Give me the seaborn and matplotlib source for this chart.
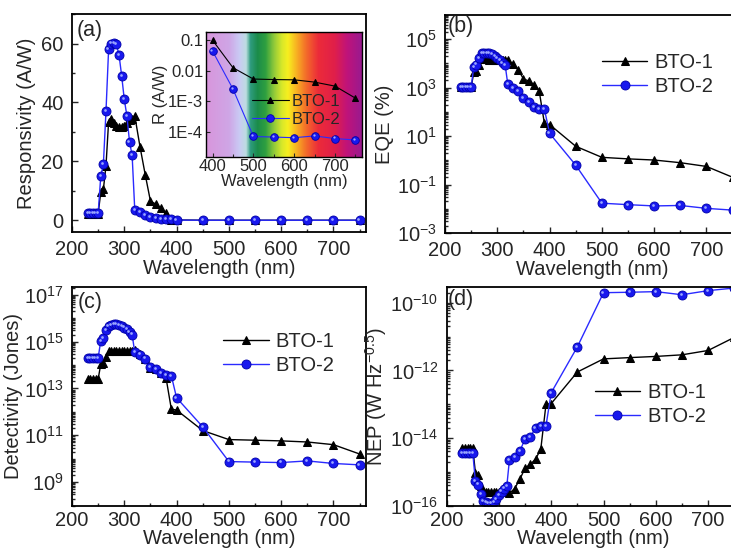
import matplotlib
matplotlib.use('Agg')
import matplotlib.pyplot as plt
import matplotlib.ticker as mticker
from matplotlib import transforms
from matplotlib.colors import LinearSegmentedColormap
import numpy as np
import pandas as pd
import seaborn as sns

# wavelengths (nm), shared by all panels
wavelength = [230, 235, 240, 245, 250, 255, 260, 265, 270, 275, 280, 285, 290, 295,
              300, 305, 310, 315, 320, 330, 340, 350, 360, 370, 380, 390, 400,
              450, 500, 550, 600, 650, 700, 750]

# (a) responsivity (A/W)
resp_bto1 = [2.2, 2.2, 2.2, 2.2, 2.2, 9.5, 10.5, 18.5, 33.5, 34.5, 33.0, 32.0, 31.5, 31.5,
             32.0, 33.0, 34.0, 34.5, 35.5, 25.0, 15.5, 6.5, 5.5, 4.0, 2.3, 0.11, 0.1,
             0.0125, 0.0053, 0.0051, 0.005, 0.0042, 0.0031, 0.00125]
resp_bto2 = [2.3, 2.3, 2.3, 2.3, 2.3, 15.0, 19.0, 37.0, 58.0, 60.0, 60.3, 59.7, 56.0, 49.0,
             41.0, 35.4, 26.6, 22.0, 3.6, 2.7, 1.9, 1.1, 0.75, 0.5, 0.4, 0.4, 0.044,
             0.0025, 6.9e-5, 6.6e-5, 6.3e-5, 7.2e-5, 5.9e-5, 5.3e-5]

# (b) EQE (%)
eqe_bto1 = [1050, 1050, 1050, 1050, 1050, 4300, 5000, 8700, 15600, 15600, 14600, 14000, 13500, 13300,
            13300, 13400, 13600, 13700, 13700, 9500, 5500, 2300, 1900, 1340, 750, 34, 30,
            3.8, 1.33, 1.15, 1.03, 0.8, 0.56, 0.2]
eqe_bto2 = [1100, 1100, 1100, 1100, 1100, 7000, 9000, 17000, 26500, 27000, 26700, 26000, 24000, 20500,
            17000, 14400, 10600, 8600, 1400, 1000, 700, 360, 260, 165, 130, 130, 13,
            0.63, 0.017, 0.0148, 0.0131, 0.0137, 0.0104, 0.0088]

# (c) detectivity (Jones)
det_bto1 = [2.5e13, 2.5e13, 2.5e13, 2.5e13, 2.5e13, 1.1e14, 1.25e14, 2.2e14, 4.0e14, 4.1e14, 4.0e14,
            3.85e14, 3.8e14, 3.8e14, 3.85e14, 3.95e14, 4.0e14, 4.1e14, 4.2e14, 3.0e14, 1.85e14,
            7.8e13, 6.6e13, 4.8e13, 2.7e13, 1.3e12, 1.2e12, 1.6e11, 6.6e10, 6.2e10, 5.8e10,
            5.2e10, 4.0e10, 1.6e10]
det_bto2 = [2.0e14, 2.0e14, 2.0e14, 2.0e14, 2.0e14, 1.1e15, 1.4e15, 3.0e15, 4.5e15, 5.3e15, 5.6e15,
            5.6e15, 5.3e15, 4.7e15, 4.0e15, 3.4e15, 2.6e15, 2.0e15, 3.5e14, 2.8e14, 1.9e14,
            8.5e13, 7.0e13, 4.5e13, 3.6e13, 3.5e13, 4.0e12, 2.3e11, 7.6e9, 7.2e9, 6.9e9,
            8.1e9, 6.3e9, 5.5e9]

# (d) NEP (W Hz^-0.5)
nep_bto1 = [5.0e-15, 5.0e-15, 5.0e-15, 5.0e-15, 5.0e-15, 9.5e-16, 8.0e-16, 3.7e-16, 2.6e-16, 2.6e-16,
            2.6e-16, 2.6e-16, 2.6e-16, 2.6e-16, 2.6e-16, 2.6e-16, 2.6e-16, 2.5e-16, 2.3e-16,
            3.2e-16, 6.0e-16, 1.3e-15, 1.65e-15, 2.4e-15, 4.6e-15, 1.0e-13, 1.05e-13,
            9.0e-13, 2.2e-12, 2.4e-12, 2.6e-12, 2.9e-12, 3.9e-12, 9.5e-12]
nep_bto2 = [3.6e-15, 3.6e-15, 3.6e-15, 3.6e-15, 3.6e-15, 5.3e-16, 4.2e-16, 2.2e-16, 1.35e-16, 1.25e-16,
            1.2e-16, 1.2e-16, 1.3e-16, 1.6e-16, 2.0e-16, 2.6e-16, 3.2e-16, 3.7e-16, 2.2e-15,
            2.8e-15, 4.1e-15, 9.5e-15, 1.1e-14, 1.95e-14, 2.3e-14, 2.3e-14, 2.2e-13,
            5.0e-12, 2.0e-10, 2.06e-10, 2.15e-10, 1.74e-10, 2.3e-10, 2.75e-10]

series_names = ['BTO-1', 'BTO-2']
panel_tags = ['(a)', '(b)', '(c)', '(d)']

eqe_ticks = [1e-3, 1e-1, 1e1, 1e3, 1e5]
det_ticks = [1e9, 1e11, 1e13, 1e15, 1e17]
nep_ticks = [1e-16, 1e-14, 1e-12, 1e-10]
inset_yticks = [0.1, 0.01, 1e-3, 1e-4]
inset_ytick_labels = ['0.1', '0.01', '1E-3', '1E-4']

# visible spectrum behind the inset
spectrum_wl = [384, 440, 465, 482, 492, 510, 530, 550, 570, 585, 605, 630, 660, 700, 730, 766]
spectrum_colors = ['#d896dc', '#cfa6e6', '#cacaf4', '#bcdde0', '#2f9c80', '#1b8c4a', '#2fa040',
                   '#8fc93a', '#d8e82a', '#f7ef1f', '#f8b422', '#f36b2a', '#ec2b3a', '#e01f4a',
                   '#c0137a', '#9a1a8f']

df = pd.DataFrame({'wavelength': wavelength,
                   'resp_bto1': resp_bto1, 'resp_bto2': resp_bto2})

sns.set_style('ticks')
plt.rcParams['font.family'] = ['Liberation Sans', 'DejaVu Sans']
plt.rcParams['font.size'] = 14.5
plt.rcParams['mathtext.fontset'] = 'custom'
plt.rcParams['mathtext.rm'] = 'Liberation Sans'
plt.rcParams['mathtext.it'] = 'Liberation Sans:italic'
plt.rcParams['mathtext.bf'] = 'Liberation Sans:bold'

BLUE = '#2a2aff'
FS = 14.5


def draw_pair(ax, x, y1, y2, ms=6.5, lw=1.0):
    sns.lineplot(x=x, y=y1, ax=ax, color='black', linewidth=lw, marker='^', markersize=ms * 0.9,
                 markeredgecolor='black', label=series_names[0])
    sns.lineplot(x=x, y=y2, ax=ax, color=BLUE, linewidth=lw, marker='o', markersize=ms,
                 markerfacecolor='#1818ee', markeredgecolor='#0000a8', markeredgewidth=0.6,
                 label=series_names[1])
    # small highlight to mimic the shaded spheres
    shine = transforms.offset_copy(ax.transData, fig=ax.figure, x=-0.8, y=0.8, units='points')
    ax.plot(x, y2, linestyle='none', marker='o', markersize=ms * 0.3, color='#9aa6ff',
            markeredgewidth=0, transform=shine, label='_nolegend_')


def style(ax, tag, tag_xy, pad=6, labelpad=0):
    ax.set_xlim(200, 762)
    ax.xaxis.set_major_locator(mticker.MultipleLocator(100))
    ax.xaxis.set_minor_locator(mticker.MultipleLocator(50))
    ax.tick_params(which='both', direction='in', width=1.0, top=False, right=False,
                   labelsize=FS, pad=6)
    ax.tick_params(axis='x', which='both', pad=pad)
    ax.tick_params(which='major', length=4.5)
    ax.tick_params(which='minor', length=2.5)
    for s in ax.spines.values():
        s.set_linewidth(1.3)
        s.set_color('black')
    ax.set_xlabel('Wavelength (nm)', fontsize=FS, labelpad=labelpad)
    ax.text(tag_xy[0], tag_xy[1], tag, transform=ax.transAxes, ha='left', va='top', fontsize=15.5)


def log_axis(ax, ticks, lo, hi):
    ax.set_yscale('log')
    ax.set_ylim(lo, hi)
    ax.yaxis.set_major_locator(mticker.FixedLocator(ticks))
    ax.yaxis.set_major_formatter(mticker.LogFormatterMathtext())
    ax.yaxis.set_minor_locator(mticker.LogLocator(base=10, subs=np.arange(1, 10), numticks=100))
    ax.yaxis.set_minor_formatter(mticker.NullFormatter())


def legend(ax, anchor, fs=FS, hl=2.25, ls=0.25, htp=0.35):
    ax.legend(loc='center left', bbox_to_anchor=anchor, frameon=False, fontsize=fs,
              handlelength=hl, labelspacing=ls, handletextpad=htp, borderpad=0, borderaxespad=0)


fig = plt.figure(figsize=(7.31, 5.49), dpi=100)
ax_a = fig.add_axes([0.0985, 0.5774, 0.402, 0.397])
ax_b = fig.add_axes([0.6088, 0.5756, 0.402, 0.397])
ax_c = fig.add_axes([0.0985, 0.0790, 0.402, 0.3987])
ax_d = fig.add_axes([0.6110, 0.0790, 0.402, 0.3987])

# (a) responsivity, linear
draw_pair(ax_a, wavelength, resp_bto1, resp_bto2)
ax_a.get_legend().remove()
style(ax_a, panel_tags[0], (0.017, 0.975))
ax_a.set_ylim(-4, 70)
ax_a.yaxis.set_major_locator(mticker.MultipleLocator(20))
ax_a.yaxis.set_minor_locator(mticker.MultipleLocator(10))
ax_a.set_ylabel('Responsivity (A/W)', fontsize=FS, labelpad=4)

# (b) EQE
log_axis(ax_b, eqe_ticks, 1e-3, 1e6)
draw_pair(ax_b, wavelength, eqe_bto1, eqe_bto2)
style(ax_b, panel_tags[1], (0.01, 0.995))
ax_b.set_ylabel('EQE (%)', fontsize=FS, labelpad=2)
legend(ax_b, (0.534, 0.727))

# (c) detectivity
log_axis(ax_c, det_ticks, 1e8, 2.2e17)
draw_pair(ax_c, wavelength, det_bto1, det_bto2)
style(ax_c, panel_tags[2], (0.02, 0.975), pad=4, labelpad=-0.5)
ax_c.set_ylabel('Detectivity (Jones)', fontsize=FS, labelpad=1)
legend(ax_c, (0.515, 0.696))

# (d) NEP
log_axis(ax_d, nep_ticks, 1e-16, 3e-10)
draw_pair(ax_d, wavelength, nep_bto1, nep_bto2)
style(ax_d, panel_tags[3], (0.005, 0.99), pad=4, labelpad=-0.5)
ax_d.set_ylabel('NEP (W Hz$^{\\mathdefault{-0.5}}$)', fontsize=FS, labelpad=1)
legend(ax_d, (0.504, 0.462))

# inset of (a): visible range on log scale over a spectrum background
in_rect = [0.2818, 0.7146, 0.2134, 0.2277]
xmin, xmax = 384, 766
spectrum = LinearSegmentedColormap.from_list(
    'spectrum', [((w - xmin) / (xmax - xmin), c) for w, c in zip(spectrum_wl, spectrum_colors)])
ax_bg = fig.add_axes(in_rect)
ax_bg.imshow(np.linspace(0, 1, 400)[None, :], aspect='auto', cmap=spectrum,
             extent=[xmin, xmax, 0, 1])
ax_bg.set_axis_off()

ax_in = fig.add_axes(in_rect)
ax_in.patch.set_alpha(0)
vis = df[df['wavelength'] >= 400]
ax_in.set_yscale('log')
draw_pair(ax_in, vis['wavelength'].tolist(), vis['resp_bto1'].tolist(), vis['resp_bto2'].tolist(),
          ms=5.5, lw=0.8)
ax_in.set_xlim(xmin, xmax)
ax_in.set_ylim(1.5e-5, 0.19)
ax_in.xaxis.set_major_locator(mticker.MultipleLocator(100))
ax_in.xaxis.set_minor_locator(mticker.MultipleLocator(50))
ax_in.set_yticks(inset_yticks)
ax_in.set_yticklabels(inset_ytick_labels)
ax_in.yaxis.set_minor_locator(mticker.NullLocator())
ax_in.tick_params(which='both', direction='in', width=0.8, top=False, right=False,
                  labelsize=12, pad=2)
ax_in.tick_params(which='major', length=3)
ax_in.tick_params(which='minor', length=2)
for s in ax_in.spines.values():
    s.set_linewidth(1.0)
    s.set_color('black')
ax_in.set_xlabel('Wavelength (nm)', fontsize=12, labelpad=0)
ax_in.set_ylabel('R (A/W)', fontsize=12, labelpad=0)
legend(ax_in, (0.295, 0.37), fs=12, hl=2.2, ls=0.2, htp=0.2)

fig.savefig('out.png', dpi=100)
